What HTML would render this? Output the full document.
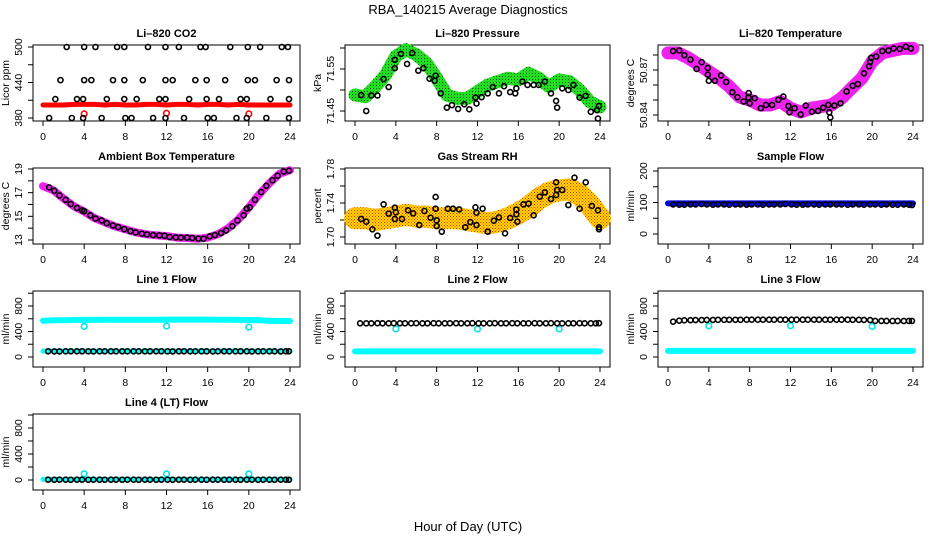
<!DOCTYPE html>
<html><head><meta charset="utf-8"><style>
html,body{margin:0;padding:0;background:#fff}
svg{display:block;font-family:"Liberation Sans",Arial,sans-serif}
</style></head><body>
<svg id="chart" width="936" height="540" viewBox="0 0 936 540" xmlns="http://www.w3.org/2000/svg">
<defs>
<pattern id="pGreen" width="3" height="3" patternUnits="userSpaceOnUse"><rect width="3" height="3" fill="#22dd22"/><rect x="1" y="1" width="1" height="1" fill="#115511"/></pattern>
<pattern id="pRH" width="3" height="3" patternUnits="userSpaceOnUse"><rect width="3" height="3" fill="#ffe000"/><rect x="0" y="0" width="1" height="1" fill="#ff2000"/><rect x="1.5" y="1.5" width="1" height="1" fill="#ff2000"/></pattern>
</defs>
<text x="468" y="14" font-size="13" text-anchor="middle">RBA_140215  Average Diagnostics</text>
<text x="468" y="531" font-size="13" text-anchor="middle">Hour of Day (UTC)</text>
</svg>
<script>
// ---- shared data ----
const bandHours = [0,1,2,3,4,5,6,7,8,9,10,11,12,13,14,15,16,17,18,19,20,21,22,23,24];
const meanHours = [0.5,1.1,1.6,2.2,2.7,3.3,3.8,4.4,4.9,5.5,6.0,6.6,7.1,7.7,8.2,8.8,9.3,9.9,10.4,11.0,11.5,12.1,12.6,13.2,13.7,14.3,14.8,15.4,15.9,16.5,17.0,17.6,18.1,18.7,19.2,19.8,20.3,20.9,21.4,22.0,22.5,23.1,23.6,23.9];
const xTicks = [0,4,8,12,16,20,24];
const calHours = [4,12,20];

// CO2
const co2Hours = [2.3,4.0,5.1,7.2,7.9,10.2,11.9,13.2,15.3,15.8,18.2,19.9,21.1,23.2,23.8, 1.7,4.0,4.7,6.8,7.9,9.7,11.9,12.6,14.8,15.9,17.7,19.9,20.6,22.7,23.9, 1.2,3.3,3.9,6.2,7.9,9.1,11.3,11.9,14.2,15.9,17.1,19.2,19.8,22.1,23.9, 0.6,2.8,3.9,5.7,8.0,8.6,10.7,11.9,13.7,16.0,16.6,18.8,19.8,21.7,23.9];
const co2Values = [500,500,500,500,500,500,500,500,500,500,500,500,500,500,500, 444,444,444,444,444,444,444,444,444,444,444,444,444,444,444, 412,412,412,412,412,412,412,412,412,412,412,412,412,412,412, 380,380,380,380,380,380,380,380,380,380,380,380,380,380,380];
const co2Band = [402,402,402,403,403,403,402,403,402,402,403,403,402,403,403,402,403,403,402,403,402,402,402,402,402];
const co2Cal = [387,388,387];

// Pressure
const presBand = [71.488,71.484,71.508,71.536,71.58,71.596,71.584,71.564,71.528,71.488,71.48,71.48,71.496,71.512,71.52,71.528,71.524,71.54,71.528,71.508,71.524,71.52,71.50,71.472,71.46];
const presHours = [0.6,1.1,1.6,2.2,2.8,3.3,3.9,3.9,4.5,5.1,5.6,6.2,6.7,7.3,7.8,7.9,8.4,9.0,9.5,10.1,10.7,11.2,11.8,11.9,12.4,13.0,13.5,14.1,14.6,15.2,15.7,15.8,16.4,16.9,17.5,18.0,18.6,19.2,19.7,19.8,20.3,20.9,21.4,22.0,22.6,23.1,23.7,23.8,23.9];
const presValues = [71.488,71.450,71.487,71.487,71.526,71.507,71.572,71.552,71.586,71.562,71.588,71.546,71.552,71.527,71.522,71.534,71.492,71.458,71.464,71.455,71.466,71.454,71.482,71.468,71.483,71.492,71.507,71.492,71.509,71.495,71.492,71.504,71.520,71.512,71.512,71.512,71.520,71.492,71.474,71.458,71.504,71.500,71.512,71.482,71.486,71.448,71.452,71.432,71.462];

// Li-820 temperature
const tempBand = [50.8814,50.8814,50.878,50.8736,50.869,50.8646,50.859,50.852,50.850,50.8467,50.8467,50.849,50.8445,50.842,50.8445,50.8456,50.8467,50.8512,50.858,50.8646,50.8758,50.8814,50.883,50.8844,50.8844];
const tempHours = [0.5,1.1,1.6,2.2,2.8,3.3,3.9,3.9,4.0,4.6,5.2,5.7,6.3,6.8,7.4,7.9,7.9,8.0,8.5,9.1,9.6,10.2,10.8,11.3,11.8,11.9,12.4,13.0,13.5,14.1,14.7,15.2,15.7,15.8,15.9,16.3,16.9,17.5,18.1,18.6,19.2,19.7,19.8,19.9,20.4,21.0,21.6,22.1,22.7,23.3,23.8];
const tempValues = [50.8826,50.883,50.8799,50.877,50.8707,50.8752,50.8714,50.8669,50.8628,50.8628,50.8664,50.862,50.8552,50.8519,50.849,50.8546,50.8516,50.8478,50.8512,50.8445,50.8467,50.8467,50.8501,50.8523,50.846,50.8418,50.8445,50.8404,50.8463,50.8422,50.8427,50.8449,50.8467,50.8418,50.8384,50.8463,50.8478,50.8557,50.8595,50.8606,50.8678,50.8725,50.8754,50.8781,50.879,50.8826,50.883,50.8844,50.8841,50.8855,50.8844];

// Ambient box temperature
const ambBand = [17.55,17.2,16.5,15.85,15.4,14.85,14.5,14.15,13.9,13.65,13.48,13.4,13.33,13.2,13.17,13.1,13.2,13.5,14.0,14.75,15.75,16.85,17.8,18.6,18.9];
const ambHours = [0.6,1.1,1.6,2.2,2.7,3.3,3.8,4.0,4.6,5.1,5.7,6.2,6.8,7.3,7.9,8.5,9.0,9.6,10.1,10.7,11.3,11.8,12.3,12.9,13.4,14.0,14.5,15.1,15.6,16.2,16.7,17.3,17.8,18.4,18.9,19.5,19.8,20.1,20.6,21.2,21.7,22.3,22.8,23.4,23.9];
const ambValues = [17.44,17.16,16.77,16.40,16.04,15.71,15.51,15.43,15.09,14.81,14.65,14.42,14.23,14.09,13.92,13.75,13.64,13.53,13.47,13.42,13.39,13.36,13.25,13.22,13.20,13.20,13.17,13.11,13.11,13.31,13.42,13.59,13.81,14.17,14.65,15.09,15.65,15.76,16.40,17.05,17.58,18.05,18.44,18.78,18.86];

// Gas stream RH
const rhBand = [1.722,1.722,1.720,1.722,1.724,1.726,1.724,1.724,1.722,1.722,1.722,1.720,1.718,1.716,1.718,1.722,1.728,1.735,1.745,1.752,1.755,1.756,1.750,1.738,1.722];
const rhHours = [0.6,1.1,1.7,2.2,2.8,3.3,3.9,3.9,4.0,4.6,5.2,5.7,6.3,6.8,7.4,7.9,7.9,8.0,8.0,8.5,9.1,9.6,10.2,10.8,11.3,11.8,11.9,11.9,12.5,13.0,13.6,14.1,14.7,15.2,15.8,15.8,15.9,16.5,17.0,17.5,18.1,18.6,19.2,19.7,19.7,19.8,20.3,20.9,21.5,22.0,22.6,23.2,23.8,23.9,23.9];
const rhValues = [1.7212,1.718,1.709,1.7016,1.7384,1.7275,1.7345,1.7212,1.729,1.7212,1.7314,1.7278,1.7141,1.7306,1.7227,1.7471,1.7333,1.7196,1.7129,1.7063,1.7333,1.7333,1.7325,1.7114,1.7176,1.7349,1.7286,1.7141,1.7333,1.7063,1.7192,1.7231,1.7043,1.7224,1.7322,1.7267,1.718,1.7384,1.7392,1.7255,1.7475,1.7525,1.7447,1.7643,1.7494,1.7553,1.7553,1.7376,1.7698,1.7333,1.7643,1.7365,1.7314,1.7114,1.709];

// Sample flow
const sampleBand = [97,97,97,97,97,97,97,97,97,97,97,97,97,97,97,97,97,97,97,97,97,97,97,97,97];
const sampleValues = [94,93,93,94,94,95,94,93,94,94,93,94,94,93,94,94,93,94,94,94,95,94,93,93,94,94,93,94,94,94,94,93,94,94,93,94,94,93,94,93,93,94,93,92];

// Line flows
const l1BandHi = [570,575,578,580,582,582,583,583,584,584,585,585,586,586,586,586,586,585,583,582,580,578,570,565,565];
const l1BandLo = [92,92,92,92,92,92,92,92,92,92,92,92,92,92,92,92,92,92,92,92,92,92,92,92,92];
const l1Cal = [480,485,470];
const l1Values = [90,88,88,89,90,89,90,89,88,89,90,89,89,90,89,90,89,89,90,89,90,89,88,89,90,89,89,90,89,88,89,90,89,89,90,89,88,89,89,90,89,88,89,90];
const l2BandLo = [88,88,88,88,88,88,88,88,88,88,88,88,88,88,88,88,88,88,88,88,88,88,88,88,88];
const l2Cal = [440,440,440];
const l2Values = [529,528,529,530,529,529,530,529,528,529,530,529,529,530,529,528,529,530,529,529,530,529,528,529,530,529,529,530,529,528,529,530,529,529,530,529,528,529,529,530,529,528,529,530];
const l3BandLo = [95,95,95,95,95,95,95,95,95,95,95,95,95,95,95,95,95,95,95,95,95,95,95,95,95];
const l3Cal = [488,490,480];
const l3Values = [555,570,575,578,580,580,582,582,583,583,584,584,584,585,585,585,585,585,585,585,585,585,585,585,585,585,585,585,585,585,585,585,584,583,582,580,566,566,565,565,565,565,566,566];
const l4Band = [10,10,10,10,10,10,10,10,10,10,10,10,10,10,10,10,10,10,10,10,10,10,10,10,10];
const l4Cal = [95,95,95];
const l4Values = [5,4,5,5,4,5,5,4,5,5,4,5,5,4,5,5,4,5,5,4,5,5,4,5,5,4,5,5,4,5,5,4,5,5,4,5,5,4,5,5,4,5,5,4];

// ---- drawing ----
const NS = 'http://www.w3.org/2000/svg';
const svg = document.getElementById('chart');
const cols = [{x0:43,x24:290},{x0:355,x24:600},{x0:668,x24:913}];
const rowTops = [45,168,291,414];
function mk(tag, attrs, parent){
  const e = document.createElementNS(NS, tag);
  for (const k in attrs) e.setAttribute(k, attrs[k]);
  (parent||svg).appendChild(e);
  return e;
}
function panel(c, r, name, title, ylab, cal, ticks, labels){
  const g = mk('g', {});
  
  
  const col = cols[c], top = rowTops[r], bot = top + 76;
  const left = col.x0 - 10, right = col.x24 + 10;
  const x = h => col.x0 + (col.x24 - col.x0) * h / 24;
  const y = v => cal.p1 + (cal.p2 - cal.p1) * (v - cal.v1) / (cal.v2 - cal.v1);
  const fr = mk('rect', {x:left, y:top, width:right-left, height:76, fill:'none', stroke:'#000', 'stroke-width':1}, g);
  
  
  const t = mk('text', {x:(left+right)/2, y:top-8, 'font-size':11, 'font-weight':'bold', 'text-anchor':'middle'}, g);
  
  
  t.textContent = title;
  const yl = mk('text', {transform:`translate(${left-24},${(top+bot)/2}) rotate(-90)`, 'font-size':10.5, 'text-anchor':'middle'}, g);
  
  
  yl.textContent = ylab;
  const xa = mk('g', {}, g);
  
  
  mk('line', {x1:x(0), x2:x(24), y1:bot, y2:bot, stroke:'#000'}, xa);
  xTicks.forEach(h => {
    mk('line', {x1:x(h), x2:x(h), y1:bot, y2:bot+5, stroke:'#000'}, xa);
    const tl = mk('text', {x:x(h), y:bot+19, 'font-size':10.5, 'text-anchor':'middle'}, xa);
    
    
    tl.textContent = h;
  });
  const ya = mk('g', {}, g);
  
  
  mk('line', {x1:left, x2:left, y1:y(ticks[0]), y2:y(ticks[ticks.length-1]), stroke:'#000'}, ya);
  ticks.forEach(v => mk('line', {x1:left-5, x2:left, y1:y(v), y2:y(v), stroke:'#000'}, ya));
  labels.forEach(v => {
    const tl = mk('text', {transform:`translate(${left-11},${y(v)}) rotate(-90)`, 'font-size':10.5, 'text-anchor':'middle'}, ya);
    
    
    tl.textContent = v;
  });
  return {g, x, y};
}
function band(P, hours, vals, color, w, name){
  const pts = hours.map((h,i) => P.x(h).toFixed(1)+','+P.y(vals[i]).toFixed(1)).join(' ');
  const pl = mk('polyline', {points:pts, fill:'none', stroke:color, 'stroke-width':w, 'stroke-linejoin':'round', 'stroke-linecap':'round'}, P.g);
  
  
}
function pts(P, hours, vals, color, name, rr){
  const g = mk('g', {}, P.g);
  
  
  hours.forEach((h,i) => {
    const c = mk('circle', {cx:P.x(h), cy:P.y(vals[i]), r:rr||2.8, fill:'none', stroke:color, 'stroke-width':1.6}, g);
    
    
  });
}
const flowTicks = [0,200,400,600,800,1000], flowLabels = [0,400,800];

let P = panel(0,0,'co2-panel','Li–820 CO2','Licor ppm',{v1:500,p1:47,v2:380,p2:118},[380,410,440,470,500],[380,440,500]);
band(P, bandHours, co2Band, '#ff0000', 5, 'co2-band');
pts(P, calHours, co2Cal, '#ff0000', 'co2-cal-points');
pts(P, co2Hours, co2Values, '#000', 'co2-mean-points', 2.5);

P = panel(1,0,'pressure-panel','Li–820 Pressure','kPa',{v1:71.55,p1:69,v2:71.45,p2:111},[71.45,71.50,71.55,71.60],[71.45,71.55]);
band(P, bandHours, presBand, 'url(#pGreen)', 13, 'pressure-band');
pts(P, presHours, presValues, '#000', 'pressure-mean-points', 2.5);

P = panel(2,0,'li820-temp-panel','Li–820 Temperature','degrees C',{v1:50.87,p1:70,v2:50.84,p2:115},[50.84,50.85,50.86,50.87,50.88],[50.84,50.87]);
band(P, bandHours, tempBand, '#ee22ee', 13, 'li820-temp-band');
pts(P, tempHours, tempValues, '#000', 'li820-temp-mean-points', 2.5);

P = panel(0,1,'ambient-temp-panel','Ambient Box Temperature','degrees C',{v1:19,p1:169,v2:13,p2:240},[13,14,15,16,17,18,19],[13,15,17,19]);
band(P, bandHours, ambBand, '#ee22ee', 8, 'ambient-temp-band');
pts(P, ambHours, ambValues, '#000', 'ambient-temp-mean-points', 2.5);

P = panel(1,1,'rh-panel','Gas Stream RH','percent',{v1:1.78,p1:169,v2:1.70,p2:237},[1.70,1.72,1.74,1.76,1.78],['1.70','1.74','1.78']);
band(P, bandHours, rhBand, 'url(#pRH)', 22, 'rh-band');
pts(P, rhHours, rhValues, '#000', 'rh-mean-points', 2.5);

P = panel(2,1,'sample-flow-panel','Sample Flow','ml/min',{v1:200,p1:171,v2:0,p2:234},[0,50,100,150,200],[0,100,200]);
band(P, bandHours, sampleBand, '#0000ee', 6, 'sample-flow-band');
pts(P, meanHours, sampleValues, '#000', 'sample-flow-mean-points', 2.5);

P = panel(0,2,'line1-flow-panel','Line 1 Flow','ml/min',{v1:800,p1:306,v2:0,p2:357},flowTicks,flowLabels);
band(P, bandHours, l1BandHi, '#00ffff', 6, 'line1-high-band');
band(P, bandHours, l1BandLo, '#00ffff', 5, 'line1-low-band');
pts(P, calHours, l1Cal, '#00e5e5', 'line1-cal-points');
pts(P, meanHours, l1Values, '#000', 'line1-mean-points', 2.5);

P = panel(1,2,'line2-flow-panel','Line 2 Flow','ml/min',{v1:800,p1:306,v2:0,p2:357},flowTicks,flowLabels);
band(P, bandHours, l2BandLo, '#00ffff', 6, 'line2-low-band');
pts(P, calHours, l2Cal, '#00e5e5', 'line2-cal-points');
pts(P, meanHours, l2Values, '#000', 'line2-mean-points', 2.5);

P = panel(2,2,'line3-flow-panel','Line 3 Flow','ml/min',{v1:800,p1:306,v2:0,p2:357},flowTicks,flowLabels);
band(P, bandHours, l3BandLo, '#00ffff', 6, 'line3-low-band');
pts(P, calHours, l3Cal, '#00e5e5', 'line3-cal-points');
pts(P, meanHours, l3Values, '#000', 'line3-mean-points', 2.5);

P = panel(0,3,'line4-flow-panel','Line 4 (LT) Flow','ml/min',{v1:800,p1:428,v2:0,p2:480},flowTicks,flowLabels);
band(P, bandHours, l4Band, '#00ffff', 5, 'line4-band');
pts(P, calHours, l4Cal, '#00e5e5', 'line4-cal-points');
pts(P, meanHours, l4Values, '#000', 'line4-mean-points', 2.5);
</script>
</body></html>
